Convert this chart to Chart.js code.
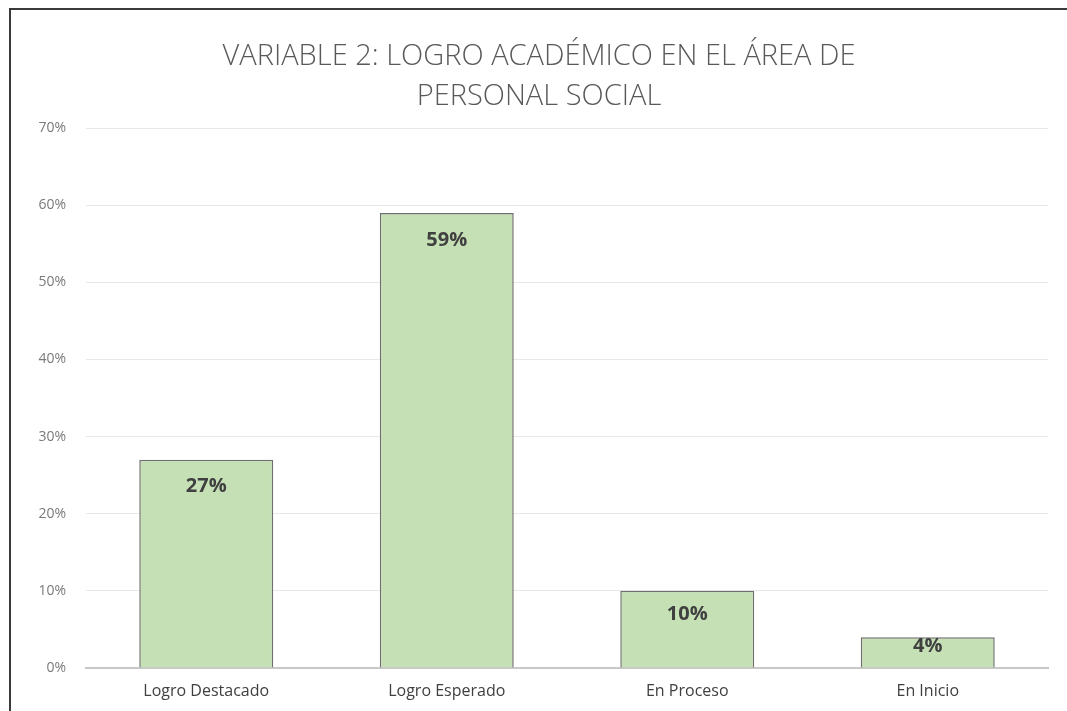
<!DOCTYPE html>
<html>
<head>
<meta charset="utf-8">
<script src="https://cdn.jsdelivr.net/npm/chart.js@4"></script>
<style>
    html, body { margin: 0; padding: 0; background: #fff; }
    #frame {
        position: absolute;
        left: 9px;
        top: 8px;
        width: 1056px;
        height: 701px;
        border-left: 2px solid #3a3a3a;
        border-top: 2px solid #3a3a3a;
    }
</style>
</head>
<body>
<div id="frame"><canvas id="chart" width="1056" height="701"></canvas></div>
<script>
const categories = ['Logro Destacado', 'Logro Esperado', 'En Proceso', 'En Inicio'];
const percentages = [27, 59, 10, 4];
const titleLines = ['VARIABLE 2: LOGRO ACADÉMICO EN EL ÁREA DE', 'PERSONAL SOCIAL'];

// draws the value label inside the top of each bar
const barLabels = {
    id: 'barLabels',
    afterDatasetsDraw(chart) {
        const ctx = chart.ctx;
        const meta = chart.getDatasetMeta(0);
        ctx.save();
        ctx.font = 'bold 20px "Open Sans"';
        ctx.fillStyle = '#404040';
        ctx.textAlign = 'center';
        ctx.textBaseline = 'middle';
        meta.data.forEach((bar, i) => {
            const h = bar.base - bar.y;
            ctx.fillText(percentages[i] + '%', bar.x, bar.y + Math.min(27, h * 0.3));
        });
        ctx.restore();
    }
};

document.addEventListener('DOMContentLoaded', function() {
    const ctx = document.getElementById('chart');
    new Chart(ctx, {
        type: 'bar',
        data: {
            labels: categories,
            datasets: [{
                data: percentages,
                backgroundColor: '#c5e0b4',
                borderColor: '#6f6f6f',
                borderWidth: 1.5,
                categoryPercentage: 0.557,
                barPercentage: 1
            }]
        },
        options: {
            responsive: false,
            animation: false,
            layout: { padding: 0 },
            plugins: {
                legend: { display: false },
                tooltip: { enabled: false },
                title: {
                    display: true,
                    text: titleLines,
                    color: '#595959',
                    font: { family: 'Open Sans', size: 29, weight: 300, lineHeight: 1.38 },
                    padding: { top: 27, bottom: 11 }
                }
            },
            scales: {
                x: {
                    grid: { display: false, drawTicks: false },
                    border: { color: '#c8c8c8', width: 2 },
                    ticks: {
                        color: '#404040',
                        font: { family: 'Open Sans', size: 16 },
                        padding: 14
                    },
                    afterFit(scale) { scale.height = 43; }
                },
                y: {
                    min: 0,
                    max: 70,
                    grid: { color: '#e8e8e8', lineWidth: 1, drawTicks: false },
                    border: { display: false },
                    ticks: {
                        stepSize: 10,
                        color: '#7a7a7a',
                        font: { family: 'Open Sans', size: 14 },
                        padding: 20,
                        callback: value => value + '%'
                    },
                    afterFit(scale) { scale.width = 75; }
                },
                // empty axis that only reserves the right margin
                yRight: {
                    position: 'right',
                    grid: { display: false, drawTicks: false },
                    border: { display: false },
                    ticks: { display: false },
                    afterFit(scale) { scale.width = 19; }
                }
            }
        },
        plugins: [barLabels]
    });
});
</script>
</body>
</html>
